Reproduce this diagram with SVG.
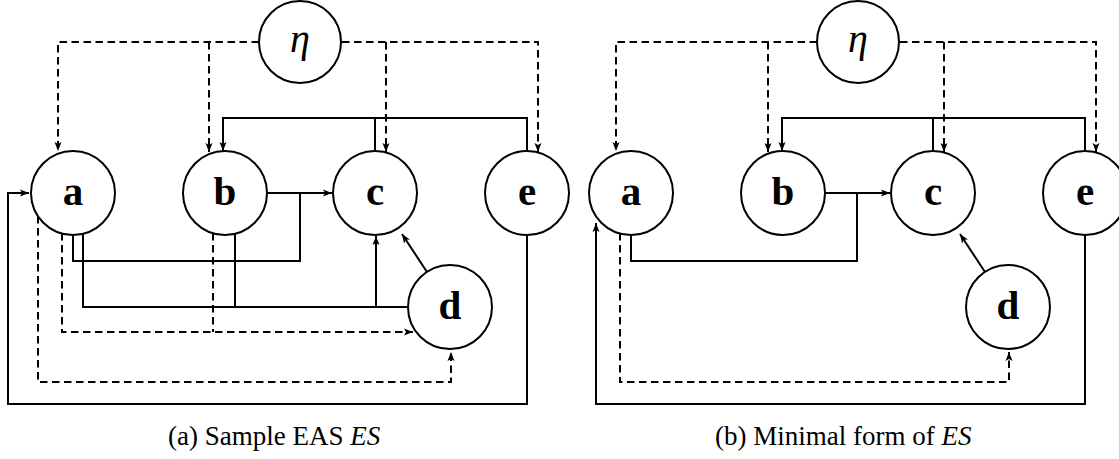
<svg xmlns="http://www.w3.org/2000/svg" width="1119" height="459" viewBox="0 0 1119 459">
<style>
.node{fill:#fff;stroke:#000;stroke-width:2}
.lbl{font-family:"Liberation Serif",serif;font-weight:bold;font-size:41px;text-anchor:middle}
.eta{font-family:"Liberation Serif",serif;font-style:italic;font-size:40px;text-anchor:middle}
.s{fill:none;stroke:#000;stroke-width:2}
.d{fill:none;stroke:#000;stroke-width:2;stroke-dasharray:7.5 4.5}
.cap{font-family:"Liberation Serif",serif;font-size:27px}
</style>
<defs>
<marker id="ah" markerUnits="userSpaceOnUse" markerWidth="12" markerHeight="10" viewBox="-10 -5 12 10" refX="0" refY="0" orient="auto">
<path d="M0,0 L-9,-3.5 L-7,0 L-9,3.5 Z" fill="#000"/>
</marker>
</defs>
<g id="connectors">
<!-- left diagram -->
<path class="d" d="M259,42 H58 V151" marker-end="url(#ah)"/>
<path class="d" d="M209,42 V152" marker-end="url(#ah)"/>
<path class="d" d="M342,42 H538 V152" marker-end="url(#ah)"/>
<path class="d" d="M386,42 V152" marker-end="url(#ah)"/>
<path class="s" d="M527,151 V118 H223 V151" marker-end="url(#ah)"/>
<path class="s" d="M375,151 V118"/>
<path class="s" d="M267,193 H332" marker-end="url(#ah)"/>
<path class="s" d="M73,235 V261 H300 V193"/>
<path class="s" d="M83,234 V307 H408"/>
<path class="s" d="M235,233 V307"/>
<path class="s" d="M376,307 V236" marker-end="url(#ah)"/>
<path class="d" d="M62,233 V332 H413" marker-end="url(#ah)"/>
<path class="d" d="M213,233 V332"/>
<path class="d" d="M38,216 V382 H451 V352" marker-end="url(#ah)"/>
<path class="s" d="M527,235 V404 H8 V193 H29" marker-end="url(#ah)"/>
<path class="s" d="M427,272 L402,234" marker-end="url(#ah)"/>
<!-- right diagram -->
<path class="d" d="M817,42 H616 V151" marker-end="url(#ah)"/>
<path class="d" d="M768,42 V152" marker-end="url(#ah)"/>
<path class="d" d="M900,42 H1096 V152" marker-end="url(#ah)"/>
<path class="d" d="M944,42 V152" marker-end="url(#ah)"/>
<path class="s" d="M1085,151 V118 H782 V151" marker-end="url(#ah)"/>
<path class="s" d="M933,151 V118"/>
<path class="s" d="M825,193 H890" marker-end="url(#ah)"/>
<path class="s" d="M857,193 V261 H631 V235"/>
<path class="d" d="M620,233 V382 H1009 V352" marker-end="url(#ah)"/>
<path class="s" d="M1085,235 V404 H596 V223" marker-end="url(#ah)"/>
<path class="s" d="M985,272 L960,234" marker-end="url(#ah)"/>
</g>
<g id="eta1"><circle class="node" cx="300" cy="42" r="41"/><text class="eta" x="300" y="52">η</text></g>
<g id="a1"><circle class="node" cx="73" cy="193" r="42"/><text class="lbl" x="73" y="205">a</text></g>
<g id="b1"><circle class="node" cx="225" cy="193" r="42"/><text class="lbl" x="225" y="205">b</text></g>
<g id="c1"><circle class="node" cx="375" cy="193" r="42"/><text class="lbl" x="375" y="205">c</text></g>
<g id="e1"><circle class="node" cx="527" cy="193" r="42"/><text class="lbl" x="527" y="205">e</text></g>
<g id="d1"><circle class="node" cx="450" cy="307" r="42"/><text class="lbl" x="450" y="319">d</text></g>
<g id="eta2"><circle class="node" cx="858" cy="42" r="41"/><text class="eta" x="858" y="52">η</text></g>
<g id="a2"><circle class="node" cx="631" cy="193" r="42"/><text class="lbl" x="631" y="205">a</text></g>
<g id="b2"><circle class="node" cx="783" cy="193" r="42"/><text class="lbl" x="783" y="205">b</text></g>
<g id="c2"><circle class="node" cx="933" cy="193" r="42"/><text class="lbl" x="933" y="205">c</text></g>
<g id="e2"><circle class="node" cx="1085" cy="193" r="42"/><text class="lbl" x="1085" y="205">e</text></g>
<g id="d2"><circle class="node" cx="1008" cy="307" r="42"/><text class="lbl" x="1008" y="319">d</text></g>
<text class="cap" x="168" y="445">(a) Sample EAS <tspan font-style="italic">ES</tspan></text>
<text class="cap" x="715" y="445">(b) Minimal form of <tspan font-style="italic">ES</tspan></text>
</svg>
